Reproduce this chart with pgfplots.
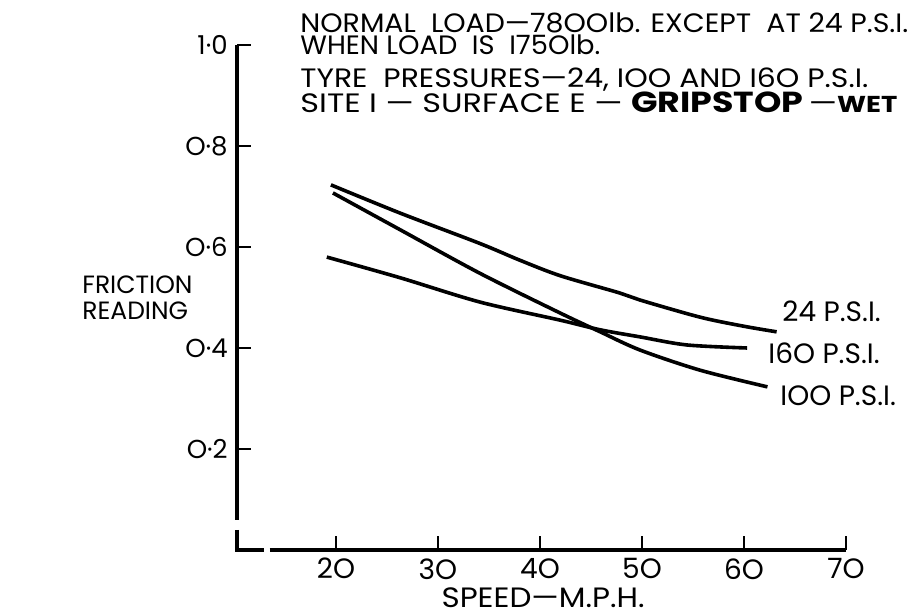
\documentclass[border=0pt]{standalone}
\usepackage{graphicx}
\usepackage{pgfplots}
\pgfplotsset{compat=1.18}
\usepackage{fontspec}
\setmainfont{Poppins}
\tikzset{toplbl/.style={anchor=base west, inner sep=0pt, font=\fontsize{13.3}{14}\selectfont}}
\begin{document}
\begin{tikzpicture}
\begin{axis}[
  x=5.1pt, y=252.5pt,
  xmin=10.3, xmax=70, ymin=0, ymax=1,
  axis lines*=left,
  axis line style={draw=none},
  clip=false,
  tick align=inside,
  xtick={20,30,40,50,60,70},
  xticklabels={2O,3O,4O,5O,6O,7O},
  ytick={0.2,0.4,0.6,0.8,1.0},
  yticklabels={O·2,O·4,O·6,O·8,1·0},
  minor tick num=0,
  major tick length=7pt,
  every tick/.style={black, line width=1pt},
  xticklabel style={font=\fontsize{14}{14}\selectfont, inner sep=0pt, anchor=north, yshift=-4pt},
  yticklabel style={font=\fontsize{13}{13}\selectfont, inner sep=0pt, anchor=east, xshift=-4.5pt},
]
\addplot[black, line width=1.8pt, smooth] coordinates {
 (19.5,0.723) (26.3,0.667) (34.1,0.607) (38,0.574) (42,0.543) (47.8,0.509) (49.8,0.495) (55.7,0.461) (60,0.443) (63.2,0.432)};
\addplot[black, line width=1.8pt, smooth] coordinates {
 (19.7,0.707) (26.3,0.634) (34.1,0.548) (42,0.469) (45.9,0.432) (49.8,0.396) (55.7,0.356) (62.3,0.323)};
\addplot[black, line width=1.8pt, smooth] coordinates {
 (19.1,0.580) (26.3,0.539) (34.1,0.491) (42,0.455) (45.9,0.436) (49.8,0.422) (54.4,0.406) (60.3,0.400)};
\draw[line width=1.6pt] (axis cs:10.3,1.0) -- (axis cs:10.3,0.06);
\draw[line width=1.6pt] (axis cs:10.3,0.04) -- (axis cs:10.3,0) -- (axis cs:12.9,0);
\draw[line width=1.6pt] (axis cs:13.5,0) -- (axis cs:70,0);
\node[anchor=base west, inner sep=0pt, font=\fontsize{14}{14}\selectfont] at (axis cs:63.73,0.4515) {24 P.S.I.};
\node[anchor=base west, inner sep=0pt, font=\fontsize{14}{14}\selectfont] at (axis cs:62.35,0.370) {I6O P.S.I.};
\node[anchor=base west, inner sep=0pt, font=\fontsize{14}{14}\selectfont] at (axis cs:63.53,0.287) {IOO P.S.I.};
\node[anchor=west, inner sep=0pt, align=left, font=\fontsize{12.5}{13}\selectfont] at (axis cs:-4.9,0.499) {FRICTION\\READING};
\node[inner sep=0pt, font=\fontsize{14}{14}\selectfont] at (axis cs:40.3,-0.095) {\resizebox{101.5pt}{\height}{SPEED—M.P.H.}};
\node[toplbl] at (axis cs:16.47,1.0238) {\parbox[t]{310pt}{\lineskiplimit=-100pt\lineskip=0pt\baselineskip=11pt
  \resizebox{304pt}{\height}{NORMAL\ \ LOAD—78OOlb. EXCEPT\ \ AT 24 P.S.I.}\\
  \resizebox{150pt}{\height}{WHEN LOAD\ \ IS\ \ I75Olb.}}};
\node[toplbl] at (axis cs:16.47,0.9149) {\parbox[t]{310pt}{\lineskiplimit=-100pt\lineskip=0pt\baselineskip=12.5pt
  \resizebox{284pt}{\height}{TYRE\ \ PRESSURES—24, IOO AND I6O P.S.I.}\\
  \resizebox{298.5pt}{\height}{SITE I — SURFACE E — {\bfseries\fontsize{14.5}{14}\selectfont GRIPSTOP}\,—{\fontsize{11.5}{14}\selectfont\bfseries WET}}}};
\coordinate (bbll) at (axis cs:-12.941,-0.1287);
\coordinate (bbur) at (axis cs:77.157,1.0891);
\end{axis}
\pgfresetboundingbox
\path[use as bounding box] (bbll) rectangle (bbur);
\end{tikzpicture}
\end{document}
